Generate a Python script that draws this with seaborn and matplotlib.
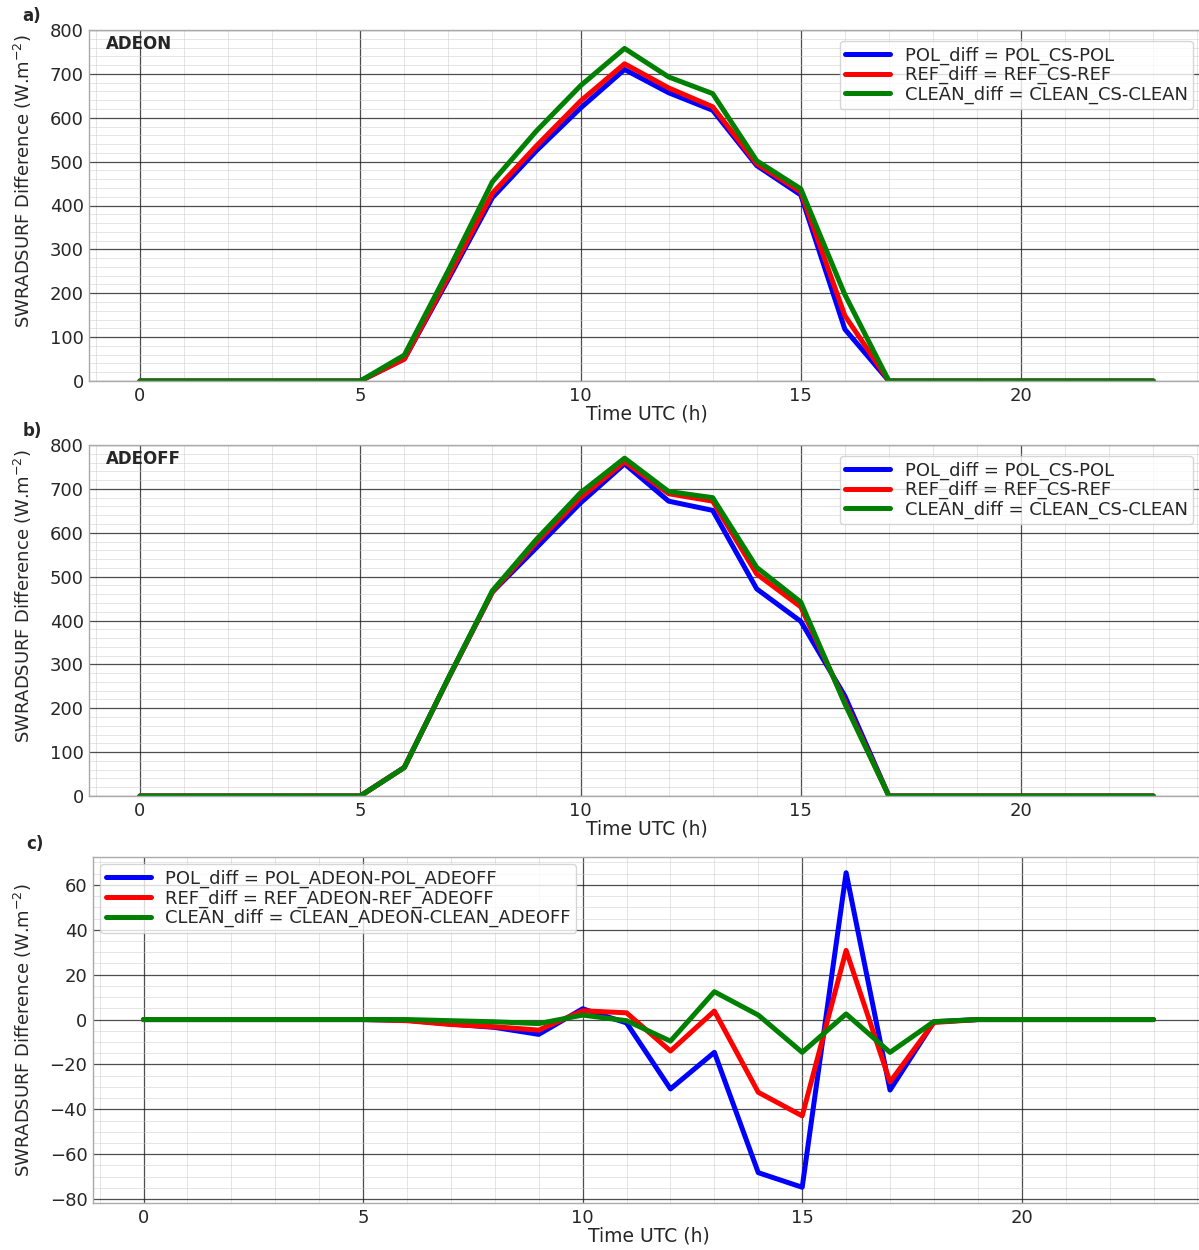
import numpy as np
import pandas as pd
import matplotlib
matplotlib.use("Agg")
import matplotlib.pyplot as plt
import seaborn as sns
from matplotlib.ticker import AutoMinorLocator

# ---------------- data ----------------
hours = list(range(24))

a_pol = [0, 0, 0, 0, 0, 0, 50, 232, 418, 525, 622, 710, 657, 617, 491, 424, 118, 0, 0, 0, 0, 0, 0, 0]
a_ref = [0, 0, 0, 0, 0, 0, 50, 238, 428, 536, 638, 723, 668, 625, 495, 431, 149, 0, 0, 0, 0, 0, 0, 0]
a_clean = [0, 0, 0, 0, 0, 0, 59, 252, 454, 570, 673, 758, 693, 655, 502, 438, 197, 0, 0, 0, 0, 0, 0, 0]

b_pol = [0, 0, 0, 0, 0, 0, 65, 268, 465, 566, 668, 757, 672, 651, 472, 398, 228, 0, 0, 0, 0, 0, 0, 0]
b_ref = [0, 0, 0, 0, 0, 0, 65, 268, 465, 578, 680, 762, 689, 672, 506, 431, 215, 0, 0, 0, 0, 0, 0, 0]
b_clean = [0, 0, 0, 0, 0, 0, 65, 269, 468, 585, 691, 770, 694, 680, 521, 442, 210, 0, 0, 0, 0, 0, 0, 0]

c_pol = [0, 0, 0, 0, 0, 0, -0.3, -2.0, -3.5, -6.6, 4.8, -1.5, -30.9, -14.6, -68.2, -74.7, 65.4, -31.4, -1.0, 0, 0, 0, 0, 0]
c_ref = [0, 0, 0, 0, 0, 0, -0.5, -2.2, -3.2, -4.7, 3.9, 3.0, -14.0, 3.8, -32.4, -42.9, 30.8, -27.8, -1.3, 0, 0, 0, 0, 0]
c_clean = [0, 0, 0, 0, 0, 0, 0, -0.5, -1.0, -1.8, 2.0, -0.5, -9.6, 12.4, 2.0, -14.6, 2.5, -14.6, -0.9, 0, 0, 0, 0, 0]

labels_cs = ["POL_diff = POL_CS-POL", "REF_diff = REF_CS-REF", "CLEAN_diff = CLEAN_CS-CLEAN"]
labels_ade = ["POL_diff = POL_ADEON-POL_ADEOFF", "REF_diff = REF_ADEON-REF_ADEOFF",
              "CLEAN_diff = CLEAN_ADEON-CLEAN_ADEOFF"]
colors = ["blue", "red", "green"]
panel_letters = ["a)", "b)", "c)"]
panel_names = ["ADEON", "ADEOFF", None]
xlabel = "Time UTC (h)"
ylabel = "SWRADSURF Difference (W.m$^{-2}$)"

# ---------------- plot ----------------
sns.set_style("white")
plt.rcParams['font.family'] = ['DejaVu Sans']

W, H = 1199, 1250
fig = plt.figure(figsize=(W / 100, H / 100), dpi=100)

# (left px, right px, top px, bottom px)
boxes = [
    (89.3, 1203.9, 30, 381),
    (89.3, 1203.9, 445, 796),
    (93.0, 1204.0, 857, 1203),
]
positions = [(l / W, 1 - b / H, (r - l) / W, (b - t) / H) for l, r, t, b in boxes]

series = [
    (a_pol, a_ref, a_clean, labels_cs),
    (b_pol, b_ref, b_clean, labels_cs),
    (c_pol, c_ref, c_clean, labels_ade),
]

for i, (pos, (s1, s2, s3, labs)) in enumerate(zip(positions, series)):
    ax = fig.add_axes(pos)
    df = pd.DataFrame({"hour": hours, "s1": s1, "s2": s2, "s3": s3})
    for col, c, lab in zip(["s1", "s2", "s3"], colors, labs):
        sns.lineplot(data=df, x="hour", y=col, color=c, lw=3.6, label=lab, ax=ax)
    if i < 2:
        ax.set_ylim(0, 800)
    ax.xaxis.set_minor_locator(AutoMinorLocator())
    ax.yaxis.set_minor_locator(AutoMinorLocator())
    ax.grid(which="major", color="#222222", lw=0.9, alpha=0.8)
    ax.grid(which="minor", color="#cccccc", lw=0.6, alpha=0.6)
    ax.set_axisbelow(True)
    for sp in ax.spines.values():
        sp.set_color("#aaaaaa")
        sp.set_linewidth(1.0)
    ax.tick_params(axis="both", which="major", labelsize=13, length=2.5, pad=1.5, color="#555555")
    ax.tick_params(axis="both", which="minor", length=2, color="#999999")
    ax.set_xlabel(xlabel, fontsize=13.5, labelpad=0)
    ax.set_ylabel(ylabel, fontsize=13, labelpad=4)
    if i < 2:
        ax.yaxis.set_label_coords(-0.0496, 0.57)
        leg = ax.legend(loc="upper right", fontsize=13, labelspacing=0.08, borderpad=0.3,
                        handlelength=2.5, framealpha=0.8, borderaxespad=0.6)
    else:
        ax.yaxis.set_label_coords(-0.053, 0.5)
        leg = ax.legend(loc="upper left", fontsize=13, labelspacing=0.08, borderpad=0.3,
                        handlelength=2.5, framealpha=0.8, borderaxespad=0.4)
    for h in leg.get_lines():
        h.set_linewidth(3.6)
    if panel_names[i]:
        ax.text(0.015, 0.985, panel_names[i], transform=ax.transAxes, fontsize=12,
                fontweight="bold", va="top", ha="left")
    ax.text(-0.06, 1.065, panel_letters[i], transform=ax.transAxes, fontsize=12,
            fontweight="bold", va="top", ha="left")

fig.savefig("out.png", dpi=100)
